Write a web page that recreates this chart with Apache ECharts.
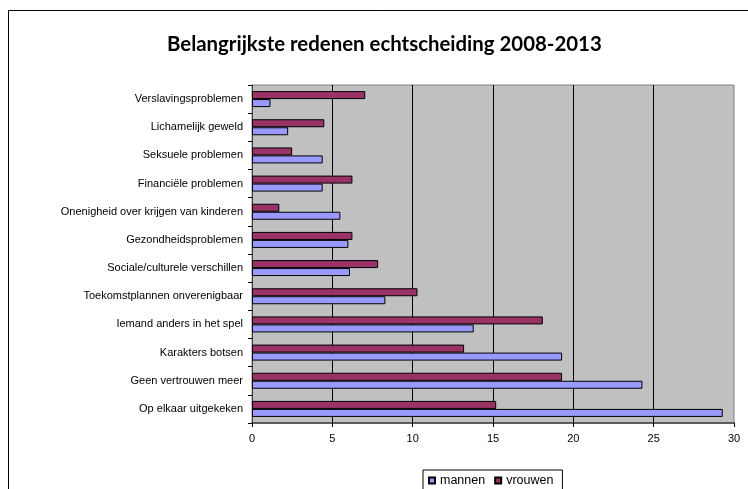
<!DOCTYPE html>
<html><head><meta charset="utf-8">
<script src="https://cdn.jsdelivr.net/npm/echarts@6/dist/echarts.min.js"></script>
<style>html,body{margin:0;padding:0;background:#fff}#c{width:748px;height:489px}</style>
</head><body><div id="c"></div>
<script>
const categories = ["Op elkaar uitgekeken","Geen vertrouwen meer","Karakters botsen","Iemand anders in het spel","Toekomstplannen onverenigbaar","Sociale/culturele verschillen","Gezondheidsproblemen","Onenigheid over krijgen van kinderen","Financiële problemen","Seksuele problemen","Lichamelijk geweld","Verslavingsproblemen"];
const mannen = [29.3, 24.3, 19.3, 13.8, 8.3, 6.1, 6.0, 5.5, 4.4, 4.4, 2.25, 1.15];
const vrouwen = [15.2, 19.3, 13.2, 18.1, 10.3, 7.85, 6.25, 1.7, 6.25, 2.5, 4.5, 7.05];
const xTicks = [0, 5, 10, 15, 20, 25, 30];

const chart = echarts.init(document.getElementById('c'), null, {renderer:'canvas'});
chart.setOption({
  animation:false,
  backgroundColor:'#fff',
  graphic:[{type:'rect', shape:{x:8.5,y:10.5,width:800,height:600}, style:{fill:'none',stroke:'#000',lineWidth:1}, z:-10}],
  title:{text:'Belangrijkste redenen echtscheiding 2008-2013', left:162, top:29,
    textStyle:{fontFamily:'Lato', fontWeight:'bold', fontSize:20.4, color:'#000'}},
  grid:{left:252, right:14, top:85, bottom:66, show:true, backgroundColor:'#C0C0C0', borderColor:'#808080', borderWidth:1},
  legend:{data:['mannen','vrouwen'], left:423, top:470, orient:'horizontal',
    itemWidth:6, itemHeight:6, itemGap:9, padding:[4,9,12,5], borderColor:'#000', borderWidth:1,
    icon:'rect', textStyle:{fontFamily:'Liberation Sans', fontSize:12.5, color:'#000'}},
  xAxis:{type:'value', min:xTicks[0], max:xTicks[xTicks.length-1], interval:5,
    axisLine:{show:true, lineStyle:{color:'#404040', width:1.5}},
    axisTick:{show:true, length:4, lineStyle:{color:'#000'}},
    axisLabel:{fontFamily:'Liberation Sans', fontSize:11, color:'#000', margin:10},
    splitLine:{show:true, showMinLine:false, showMaxLine:false, lineStyle:{color:'#000', width:1}}},
  yAxis:{type:'category', data:categories,
    axisLine:{show:true, lineStyle:{color:'#404040', width:1}},
    axisTick:{show:true, length:4, lineStyle:{color:'#000'}},
    axisLabel:{fontFamily:'Liberation Sans', fontSize:11, color:'#000', margin:9}},
  series:[
    {name:'vrouwen', type:'bar', data:vrouwen, barWidth:8, barGap:'0%',
      itemStyle:{color:'#993366', borderColor:'#000', borderWidth:1}},
    {name:'mannen', type:'bar', data:mannen, barWidth:8, barGap:'0%',
      itemStyle:{color:'#9999FF', borderColor:'#000', borderWidth:1}}
  ]
});
</script></body></html>
